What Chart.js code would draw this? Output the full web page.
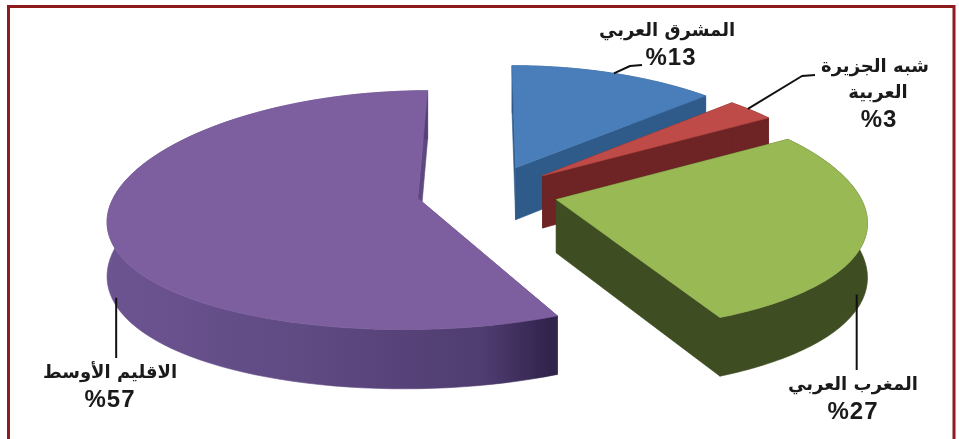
<!DOCTYPE html>
<html lang="ar">
<head>
<meta charset="utf-8">
<style>html,body{margin:0;padding:0;background:#fff;overflow:hidden}canvas{display:block}</style>
<script src="https://cdn.jsdelivr.net/npm/chart.js@4"></script>
</head>
<body>
<canvas id="c" width="959" height="439"></canvas>
<script>
const categories = ['المشرق العربي', 'شبه الجزيرة العربية', 'المغرب العربي', 'الاقليم الأوسط'];
const shares = [13, 3, 27, 57];
const valueLabels = ['%13', '%3', '%27', '%57'];
const topColors = ['#4a7ebb', '#be4b48', '#98b954', '#7d5fa0'];
const wallColors = ['#2f5b8a', '#6e2324', '#3f4e22', '#5d4880'];

const VIEW = {cx: 489, cy: 192, rx: 302, ry: 117, perspX: 0.16, perspY: 0.1, depth: 53};

function project(u, v, drop) {
  const wx = 1 - VIEW.perspX * v, wy = 1 - VIEW.perspY * v;
  return [VIEW.cx + VIEW.rx * u / wx, VIEW.cy + VIEW.ry * v / wy + (drop ? VIEW.depth / wy : 0)];
}
function geom(arc) {
  const p = arc.getProps(['startAngle', 'endAngle', 'outerRadius']);
  const mid = (p.startAngle + p.endAngle) / 2;
  const d = arc.options.offset / p.outerRadius;
  return {a0: p.startAngle, a1: p.endAngle, ou: Math.cos(mid) * d, ov: Math.sin(mid) * d};
}
function rim(g, frac, drop) {
  const a = g.a0 + (g.a1 - g.a0) * frac;
  return project(g.ou + Math.cos(a), g.ov + Math.sin(a), drop);
}
function poly(ctx, pts, fill) {
  ctx.beginPath();
  pts.forEach((p, i) => i ? ctx.lineTo(p[0], p[1]) : ctx.moveTo(p[0], p[1]));
  ctx.closePath();
  ctx.fillStyle = fill;
  ctx.fill();
  ctx.strokeStyle = fill;
  ctx.lineWidth = 0.6;
  ctx.stroke();
}
function drawSlice(ctx, arc, i) {
  const g = geom(arc), n = 90;
  const top = [], bottom = [];
  for (let k = 0; k <= n; k++) { top.push(rim(g, k / n, false)); bottom.push(rim(g, k / n, true)); }
  const apex = project(g.ou, g.ov, false), apexLow = project(g.ou, g.ov, true);
  poly(ctx, [apex, top[0], bottom[0], apexLow], wallColors[i]);
  poly(ctx, [apex, top[n], bottom[n], apexLow], wallColors[i]);
  let wall = wallColors[i];
  if (i === 3) {
    wall = ctx.createLinearGradient(110, 0, 550, 0);
    wall.addColorStop(0, '#6c5491');
    wall.addColorStop(0.45, '#5f4a82');
    wall.addColorStop(0.85, '#4f3c70');
    wall.addColorStop(1, '#30234c');
  }
  poly(ctx, top.concat(bottom.slice().reverse()), wall);
  poly(ctx, [apex].concat(top), topColors[i]);
}
const labelLayout = [
  {lines: [[667, 31]], value: [671, 58], frac: 0.5, drop: false, path: [[630, 66], [642, 65]]},
  {lines: [[875, 67], [878, 93]], value: [879, 120], frac: 0.42, drop: false, path: [[802, 76], [815, 75]]},
  {lines: [[853, 385]], value: [853, 412], frac: 0.6, drop: true, vertical: 370, up: 15},
  {lines: [[110, 373]], value: [110, 400], frac: 0.44, drop: true, vertical: 358, up: 8}
];
const splitNames = [[categories[0]], ['شبه الجزيرة', 'العربية'], [categories[2]], [categories[3]]];

const pie3d = {
  id: 'pie3d',
  beforeDraw(chart) {
    const c = chart.ctx;
    c.save();
    c.fillStyle = '#fff';
    c.fillRect(0, 0, 959, 439);
    c.strokeStyle = '#8e1c1e';
    c.lineWidth = 3;
    c.beginPath();
    c.moveTo(8.5, 439); c.lineTo(8.5, 6.5); c.lineTo(954, 6.5); c.lineTo(954, 439);
    c.stroke();
    c.restore();
  },
  beforeDatasetsDraw(chart) {
    const ctx = chart.ctx, arcs = chart.getDatasetMeta(0).data;
    ctx.save();
    [0, 1, 2, 3].forEach(i => drawSlice(ctx, arcs[i], i));
    ctx.strokeStyle = '#111';
    ctx.lineWidth = 2;
    ctx.lineJoin = 'round';
    labelLayout.forEach((l, i) => {
      const s = rim(geom(arcs[i]), l.frac, l.drop);
      ctx.beginPath();
      if (l.vertical) {
        ctx.moveTo(s[0], s[1] - l.up);
        ctx.lineTo(s[0], l.vertical);
      } else {
        ctx.moveTo(s[0], s[1]);
        l.path.forEach(p => ctx.lineTo(p[0], p[1]));
      }
      ctx.stroke();
    });
    ctx.fillStyle = '#1a1a1a';
    ctx.textAlign = 'center';
    ctx.textBaseline = 'middle';
    labelLayout.forEach((l, i) => {
      ctx.font = 'bold 18px "DejaVu Sans"';
      ctx.direction = 'rtl';
      ctx.letterSpacing = '0px';
      l.lines.forEach((p, k) => ctx.fillText(splitNames[i][k], p[0], p[1]));
      ctx.font = 'bold 24px "Liberation Sans"';
      ctx.direction = 'ltr';
      ctx.letterSpacing = '1px';
      ctx.fillText(valueLabels[i], l.value[0], l.value[1]);
    });
    ctx.restore();
    return false;
  }
};

new Chart(document.getElementById('c'), {
  type: 'pie',
  data: {labels: categories, datasets: [{data: shares, backgroundColor: topColors, offset: [45, 45, 45, 47], borderWidth: 0}]},
  options: {
    responsive: false,
    animation: false,
    layout: {padding: 0},
    plugins: {legend: {display: false}, tooltip: {enabled: false}, title: {display: false}}
  },
  plugins: [pie3d]
});
</script>
</body>
</html>
